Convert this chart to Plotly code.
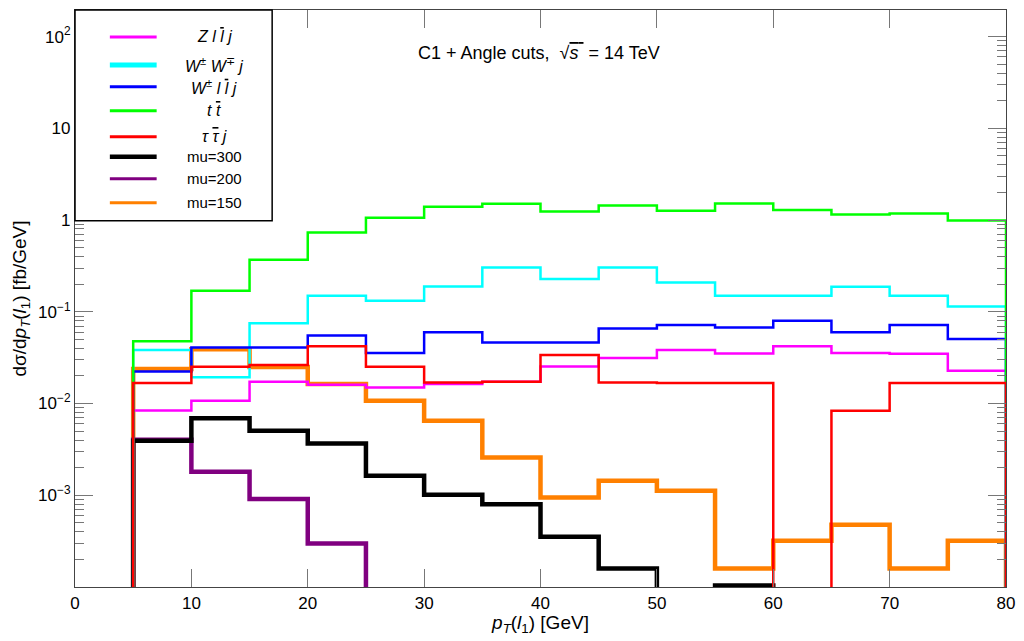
import plotly.graph_objects as go

# ---------------- data ----------------
bin_edges = [5, 10, 15, 20, 25, 30, 35, 40, 45, 50, 55, 60, 65, 70, 75, 80]

zllj = [0.0084, 0.0107, 0.0173, 0.0160, 0.0150, 0.0163, 0.0173, 0.0254, 0.0313, 0.0383,
        0.0352, 0.0420, 0.0355, 0.0349, 0.0228]
wwj = [0.0383, 0.0193, 0.075, 0.150, 0.132, 0.189, 0.305, 0.228, 0.305, 0.209,
       0.150, 0.150, 0.188, 0.150, 0.114]
wllj = [0.0224, 0.0409, 0.0409, 0.055, 0.0355, 0.0597, 0.0464, 0.0464, 0.0659, 0.072,
        0.0676, 0.080, 0.0597, 0.072, 0.0505]
ttbar = [0.0477, 0.17, 0.37, 0.73, 1.06, 1.40, 1.51, 1.24, 1.44, 1.26,
         1.52, 1.29, 1.15, 1.18, 0.99]
tautauj = [0.0167, 0.0252, 0.0263, 0.042, 0.0252, 0.017, 0.0173, 0.0338, 0.017, 0.0167,
           0.0167, 0.0, 0.00835, 0.0167, 0.0167]
mu300 = [0.00393, 0.00689, 0.00505, 0.00367, 0.00163, 0.00101, 0.00080, 0.000352, 0.000159, 0.0,
         0.000104, 0.0, 0.0, 0.0, 0.0]
mu200 = [0.00403, 0.00180, 0.00091, 0.000298, 0.0, 0.0, 0.0, 0.0, 0.0, 0.0,
         0.0, 0.0, 0.0, 0.0, 0.0]
mu150 = [0.0238, 0.039, 0.025, 0.0163, 0.0107, 0.00649, 0.00258, 0.000946, 0.00144, 0.00112,
         0.000159, 0.000319, 0.000477, 0.000159, 0.000319]

y_tick_vals = [1e-3, 1e-2, 1e-1, 1, 10, 100]
y_tick_text = ["10<sup>−3</sup>", "10<sup>−2</sup>", "10<sup>−1</sup>", "1", "10", "10<sup>2</sup>"]
x_tick_vals = [0, 10, 20, 30, 40, 50, 60, 70, 80]

OB = '<span style="text-decoration:overline">{}</span>'

series = [
    # name, values, colour, plot width, legend width
    ("mu=150", mu150, "#FF8000", 4.5, 3),
    ("mu=200", mu200, "#800080", 4.5, 3),
    ("mu=300", mu300, "#000000", 4.5, 4.5),
    ("<i>Z l " + OB.format("l") + " j</i>", zllj, "#FF00FF", 2.5, 3),
    ("<i>W</i><sup>±</sup> <i>W</i><sup>∓</sup> <i>j</i>", wwj, "#00FFFF", 2.5, 5),
    ("<i>W</i><sup>±</sup> <i>l " + OB.format("l") + " j</i>", wllj, "#0000FF", 2.5, 3),
    ("<i>t " + OB.format("t") + "</i>", ttbar, "#00FF00", 2.5, 3),
    ("<i>τ " + OB.format("τ") + " j</i>", tautauj, "#FF0000", 2.5, 3),
]
legend_order = [3, 4, 5, 6, 7, 2, 1, 0]

FLOOR = 1e-9  # empty bins drawn below the axis range


def step_xy(vals):
    v = [x if x > 0 else FLOOR for x in vals]
    xs = [bin_edges[0]] + bin_edges[:-1] + [bin_edges[-1], bin_edges[-1]]
    ys = [FLOOR] + v + [v[-1], FLOOR]
    return xs, ys


fig = go.Figure()
for name, vals, col, w, lw in series:
    xs, ys = step_xy(vals)
    fig.add_trace(go.Scatter(x=xs, y=ys, mode="lines", line=dict(color=col, width=w, shape="hv"),
                             name=name, showlegend=False, hoverinfo="skip"))

# ---------------- layout geometry ----------------
W, H = 1024, 641
L, R, T, B = 75, 1010, 9, 587


def px(xp):
    return (xp - L) / (R - L)


def py(yp):
    return (B - yp) / (B - T)


shapes = [dict(type="rect", xref="paper", yref="paper", x0=0, x1=px(273), y0=py(220), y1=1,
               line=dict(color="black", width=1.5), fillcolor="white", layer="above")]
annotations = []
row_y = [36, 64, 86, 110, 136, 156, 178, 202]
for i, idx in enumerate(legend_order):
    name, vals, col, w, lw = series[idx]
    yy = py(row_y[i])
    shapes.append(dict(type="line", xref="paper", yref="paper", x0=px(110), x1=px(157), y0=yy, y1=yy,
                       line=dict(color=col, width=lw), layer="above"))
    annotations.append(dict(xref="paper", yref="paper", x=px(215), y=yy, text=name, showarrow=False,
                            xanchor="center", yanchor="middle",
                            font=dict(size=16 if idx >= 3 else 15, color="black",
                                      family="Liberation Sans, Arial")))

annotations.append(dict(xref="paper", yref="paper", x=px(541), y=py(52),
                        text="C1 + Angle cuts,  √" + OB.format("<i>s</i> ") + " = 14 TeV", showarrow=False,
                        xanchor="center", yanchor="middle",
                        font=dict(size=18, color="black", family="Liberation Sans, Arial")))

minor_vals = [m * 10 ** k for k in range(-4, 3) for m in range(2, 10)]

fig.update_layout(
    width=W, height=H,
    margin=dict(l=L, r=W - R, t=T, b=H - B),
    plot_bgcolor="white", paper_bgcolor="white",
    font=dict(family="Liberation Sans, Arial", size=17, color="black"),
    shapes=shapes, annotations=annotations,
    showlegend=False,
)
fig.update_xaxes(range=[0, 80], tickvals=x_tick_vals, ticks="inside", ticklen=18, tickcolor="#777",
                 showline=True, linecolor="#444", linewidth=1.2, mirror="allticks", showgrid=False,
                 zeroline=False, tickfont=dict(size=17),
                 title=dict(text="<i>p</i><sub><i>T</i></sub>(<i>l</i><sub>1</sub>) [GeV]",
                            font=dict(size=19), standoff=4))
fig.update_yaxes(type="log", range=[-4, 2.29], tickvals=y_tick_vals, ticktext=y_tick_text,
                 ticks="inside", ticklen=18, tickcolor="#777",
                 minor=dict(tickvals=minor_vals, ticks="inside", ticklen=9, tickcolor="#777", showgrid=False),
                 showline=True, linecolor="#444", linewidth=1.2, mirror="allticks", showgrid=False,
                 zeroline=False, tickfont=dict(size=17),
                 title=dict(text="dσ/d<i>p</i><sub><i>T</i></sub>(<i>l</i><sub>1</sub>) [fb/GeV]",
                            font=dict(size=19), standoff=6))

fig.write_html("out.html")
